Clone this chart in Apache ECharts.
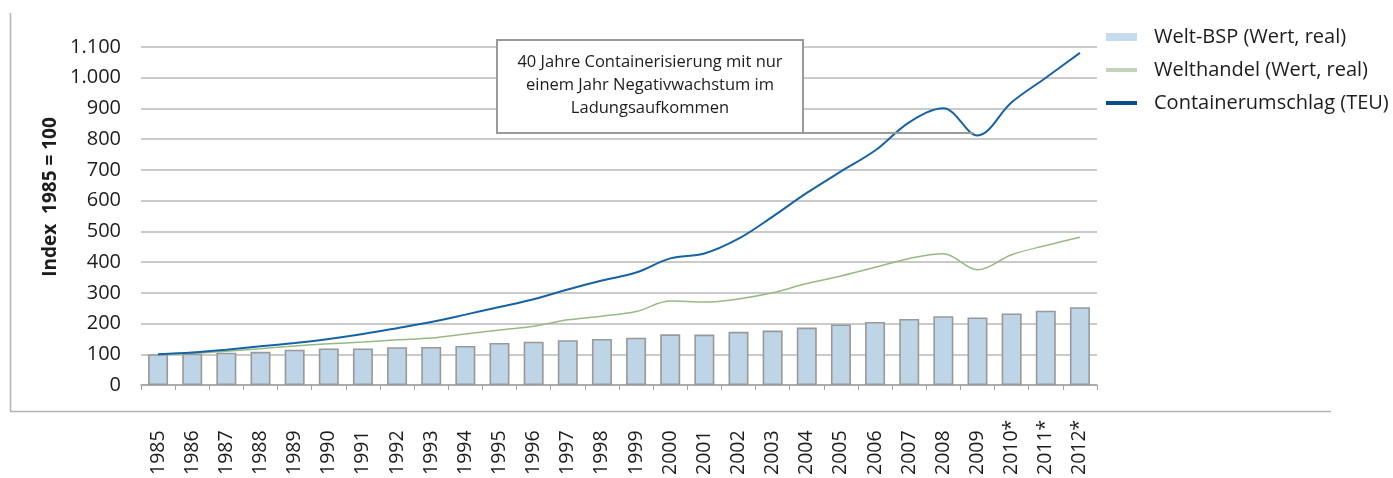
<!DOCTYPE html>
<html><head><meta charset="utf-8">
<script src="https://cdn.jsdelivr.net/npm/echarts@6/dist/echarts.min.js"></script>
<style>html,body{margin:0;padding:0;background:#fff}#c{width:1393px;height:478px}</style>
</head><body><div id="c"></div>
<script>
const years = ['1985','1986','1987','1988','1989','1990','1991','1992','1993','1994','1995','1996','1997','1998','1999','2000','2001','2002','2003','2004','2005','2006','2007','2008','2009','2010*','2011*','2012*'];
const weltBSP = [100,102,105,108,115,119,119,123,124,127,137,141,146,150,154,165,164,173,177,187,197,205,215,224,220,233,242,253];
const welthandel = [100,103,110,118,127,134,140,147,153,166,179,191,212,224,239,273,270,280,300,330,355,383,412,427,375,424,454,481];
const container = [100,106,115,126,137,150,166,185,205,229,254,279,311,340,366,412,428,476,548,625,695,763,855,901,812,920,1000,1081];
const yMin = 0, yMax = 1100, yStep = 100;
const seriesNames = ['Welt-BSP (Wert, real)', 'Welthandel (Wert, real)', 'Containerumschlag (TEU)'];
const noteLines = ['40 Jahre Containerisierung mit nur', 'einem Jahr Negativwachstum im', 'Ladungsaufkommen'];
const axisTitle = 'Index  1985 = 100';
const noteYear = '2009';

const FONT = '"Open Sans", "Noto Sans", sans-serif';
const TXT = '#1e1b1c';
function de(v) { return String(v).replace(/\B(?=(\d{3})+(?!\d))/g, '.'); }

const chart = echarts.init(document.getElementById('c'), null, {renderer: 'canvas'});
chart.setOption({
  animation: false,
  textStyle: {fontFamily: FONT},
  grid: {left: 141, right: 296, top: 47, bottom: 91, containLabel: false},
  legend: {
    orient: 'vertical', left: 1104, top: 27, padding: 0, itemWidth: 31, itemHeight: 8, itemGap: 13,
    textStyle: {fontSize: 20, color: TXT, fontFamily: FONT, padding: [0, 0, 0, 12]},
    data: [
      {name: seriesNames[0], icon: 'rect', itemStyle: {color: '#c7dbee', borderWidth: 0}},
      {name: seriesNames[1], itemStyle: {opacity: 0}, lineStyle: {color: '#c3d4bb', width: 4}},
      {name: seriesNames[2], itemStyle: {opacity: 0}, lineStyle: {color: '#0d4c8b', width: 4}}
    ]
  },
  xAxis: {
    type: 'category', data: years, boundaryGap: true,
    axisLine: {lineStyle: {color: '#a3a3a3', width: 1.5}},
    axisTick: {show: true, interval: 0, length: 5, lineStyle: {color: '#a3a3a3', width: 1}},
    axisLabel: {interval: 0, rotate: 90, align: 'left', verticalAlign: 'middle', margin: 90, fontSize: 19.5, color: TXT, fontFamily: FONT},
    splitLine: {show: false}
  },
  yAxis: {
    type: 'value', min: yMin, max: yMax, interval: yStep,
    axisLine: {show: false}, axisTick: {show: false},
    axisLabel: {margin: 20, fontSize: 20, color: TXT, fontFamily: FONT, formatter: de},
    splitLine: {lineStyle: {color: '#b9b9b9', width: 1.5}}
  },
  series: [
    {name: seriesNames[0], type: 'bar', data: weltBSP, barWidth: 20,
     itemStyle: {color: '#bed4e7', borderColor: '#999999', borderWidth: 1.6}},
    {name: seriesNames[1], type: 'line', data: welthandel, smooth: 0.35, symbol: 'none',
     lineStyle: {color: '#96ba82', width: 1.5}},
    {name: seriesNames[2], type: 'line', data: container, smooth: 0.35, symbol: 'none',
     lineStyle: {color: '#1563a6', width: 2}}
  ]
});

const idx = years.indexOf(noteYear);
const pt = chart.convertToPixel({xAxisIndex: 0, yAxisIndex: 0}, [idx, container[idx]]);
const box = {x: 497, y: 40, w: 306, h: 93};
chart.setOption({
  graphic: [
    {type: 'line', shape: {x1: 10.5, y1: 13, x2: 10.5, y2: 411.5}, style: {stroke: '#b3b3b3', lineWidth: 1.5}, silent: true},
    {type: 'line', shape: {x1: 10, y1: 411.5, x2: 1331, y2: 411.5}, style: {stroke: '#b3b3b3', lineWidth: 1.5}, silent: true},
    {type: 'text', x: 51, y: 197, rotation: Math.PI / 2,
     style: {text: axisTitle, font: 'bold 19px ' + FONT, fill: TXT, textAlign: 'center', textVerticalAlign: 'middle'}},
    {type: 'line', shape: {x1: box.x + box.w, y1: box.y + box.h, x2: pt[0] - 4, y2: box.y + box.h}, style: {stroke: '#9a9a9a', lineWidth: 2}, z: 10},
    {type: 'rect', shape: {x: box.x, y: box.y, width: box.w, height: box.h}, style: {fill: '#fff', stroke: '#9a9a9a', lineWidth: 2}, z: 10},
    {type: 'text', x: box.x + box.w / 2, y: box.y + box.h / 2 - 1, z: 11,
     style: {text: noteLines.join('\n'), font: '16.5px ' + FONT, lineHeight: 23, fill: TXT, textAlign: 'center', textVerticalAlign: 'middle'}}
  ]
});
</script></body></html>
